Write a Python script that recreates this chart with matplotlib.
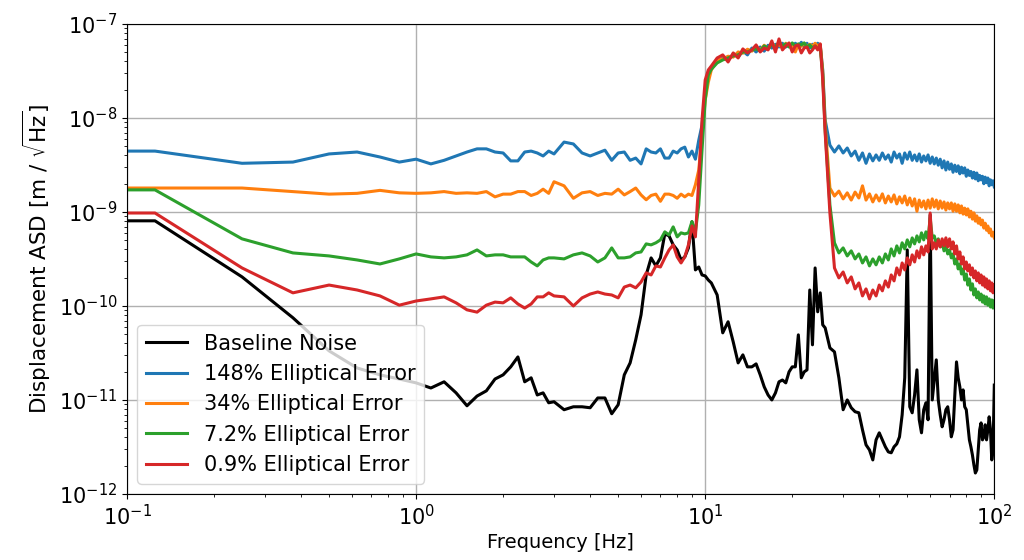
import numpy as np
import matplotlib
matplotlib.use("Agg")
import matplotlib.pyplot as plt

# frequency grid [Hz]: fine below 3 Hz, coarser above
freq = np.concatenate([
    [0.1], np.arange(0.125, 3.0001, 0.125),
    np.arange(3.25, 10.2501, 0.25),
    np.arange(10.5, 25.5001, 0.5),
    np.arange(26, 100.001, 1.0),
])

labels = ["Baseline Noise", "148% Elliptical Error", "34% Elliptical Error",
          "7.2% Elliptical Error", "0.9% Elliptical Error"]
colors = ["black", "#1f77b4", "#ff7f0e", "#2ca02c", "#d62728"]

baseline = [
    8.06e-10, 8.06e-10, 2.04e-10, 7.49e-11, 3.33e-11, 2.19e-11, 1.85e-11, 1.67e-11, 1.52e-11, 1.34e-11,
    1.56e-11, 1.19e-11, 8.67e-12, 1.10e-11, 1.25e-11, 1.67e-11, 1.85e-11, 2.25e-11, 2.87e-11, 1.56e-11,
    1.72e-11, 1.13e-11, 1.19e-11, 9.33e-12, 9.57e-12,
    7.87e-12, 8.46e-12, 8.46e-12, 8.26e-12, 1.05e-11, 1.05e-11, 7.13e-12, 8.89e-12, 1.85e-11, 2.48e-11,
    4.36e-11, 8.06e-11, 2.14e-10, 3.25e-10, 2.67e-10, 3.25e-10, 5.85e-10, 5.57e-10, 4.47e-10, 3.95e-10,
    3.09e-10, 3.33e-10, 4.15e-10, 7.87e-10, 2.42e-10, 2.6e-10, 2.14e-10, 2.09e-10, 1.89e-10,
    1.76e-10, 1.31e-10, 5.18e-11, 6.79e-11, 4.15e-11, 2.48e-11, 3.02e-11, 2.25e-11, 2.25e-11, 2.42e-11,
    1.85e-11, 1.38e-11, 1.13e-11, 1.0e-11, 1.19e-11, 1.56e-11, 1.63e-11, 1.52e-11, 1.99e-11, 2.25e-11,
    2.25e-11, 4.93e-11, 1.72e-11, 1.99e-11, 2.09e-11, 1.48e-10, 3.86e-11, 2.54e-10, 8.67e-11, 1.38e-10,
    6.3e-11,
    5.85e-11, 3.58e-11, 3.25e-11, 1.72e-11, 7.87e-12, 1.0e-11, 8.26e-12, 7.49e-12, 7.3e-12, 4.81e-12,
    3.33e-12, 2.94e-12, 2.3e-12, 3.76e-12, 4.47e-12, 3.76e-12, 3.17e-12, 2.8e-12, 2.74e-12, 3.17e-12,
    3.41e-12, 4.05e-12, 6.95e-12, 1.72e-11, 3.95e-10, 8.46e-12, 7.3e-12, 1.13e-11, 2.09e-11, 6.15e-12,
    4.47e-12, 7.87e-12, 9.33e-12, 6.15e-12, 9.33e-10, 1.0e-11, 1.63e-11, 2.67e-11, 1.0e-11, 6.95e-12,
    5.18e-12, 6.15e-12, 7.87e-12, 8.46e-12, 6.15e-12, 4.05e-12, 4.81e-12, 1.13e-11, 2.54e-11, 1.72e-11,
    1.38e-11, 1.0e-11, 1.28e-11, 8.46e-12, 7.87e-12, 5.44e-12, 3.76e-12, 3.17e-12, 2.6e-12, 2.04e-12,
    1.67e-12, 1.8e-12, 2.94e-12, 4.81e-12, 5.7e-12, 3.76e-12, 4.05e-12, 5.44e-12, 3.76e-12, 4.81e-12,
    6.62e-12, 4.81e-12, 2.3e-12, 2.94e-12, 1.44e-11,
]

err_148 = [
    4.45e-9, 4.45e-9, 3.3e-9, 3.4e-9, 4.15e-9, 4.35e-9, 3.85e-9, 3.4e-9, 3.65e-9, 3.25e-9,
    3.55e-9, 3.95e-9, 4.35e-9, 4.7e-9, 4.7e-9, 4.35e-9, 4.25e-9, 3.5e-9, 3.5e-9, 4.35e-9,
    4.45e-9, 4.25e-9, 3.95e-9, 4.45e-9, 4.15e-9,
    5.55e-9, 5.3e-9, 4.25e-9, 3.95e-9, 4.25e-9, 4.55e-9, 3.55e-9, 4.25e-9, 4.35e-9, 3.55e-9,
    3.75e-9, 3.25e-9, 4.7e-9, 4.35e-9, 4.25e-9, 4.7e-9, 3.75e-9, 3.75e-9, 4.45e-9, 4.25e-9,
    4.7e-9, 4.9e-9, 3.85e-9, 4.45e-9, 3.65e-9, 5.8e-9, 8.4e-9, 1.75e-8, 3.0e-8,
    3.4e-8, 3.95e-8, 4.35e-8, 4.15e-8, 4.8e-8, 4.45e-8, 5.15e-8, 4.7e-8, 5.55e-8, 5.05e-8,
    5.7e-8, 5.15e-8, 5.95e-8, 5.55e-8, 6.1e-8, 5.7e-8, 6.25e-8, 5.7e-8, 6.1e-8, 5.4e-8,
    6.25e-8, 5.8e-8, 6.4e-8, 5.7e-8, 6.25e-8, 5.55e-8, 6.1e-8, 5.7e-8, 6.25e-8, 5.95e-8,
    3.25e-8,
    9.5e-9, 5.15e-9, 4.35e-9, 5.05e-9, 4.25e-9, 4.8e-9, 3.95e-9, 4.45e-9, 3.55e-9, 4.25e-9,
    3.3e-9, 4.15e-9, 3.5e-9, 4.05e-9, 3.55e-9, 4.25e-9, 3.65e-9, 4.05e-9, 3.4e-9, 4.35e-9,
    3.75e-9, 4.15e-9, 3.3e-9, 4.25e-9, 3.65e-9, 4.35e-9, 3.55e-9, 4.05e-9, 3.5e-9, 4.15e-9,
    3.4e-9, 3.95e-9, 3.5e-9, 4.05e-9, 3.3e-9, 3.85e-9, 3.25e-9, 3.75e-9, 3.15e-9, 3.65e-9,
    2.95e-9, 3.5e-9, 2.8e-9, 3.4e-9, 2.85e-9, 3.25e-9, 2.65e-9, 3.15e-9, 2.7e-9, 3.1e-9,
    2.55e-9, 3.0e-9, 2.6e-9, 2.95e-9, 2.4e-9, 2.8e-9, 2.45e-9, 2.7e-9, 2.3e-9, 2.65e-9,
    2.25e-9, 2.6e-9, 2.15e-9, 2.45e-9, 2.2e-9, 2.4e-9, 2.0e-9, 2.35e-9, 2.05e-9, 2.3e-9,
    1.9e-9, 2.2e-9, 1.95e-9, 2.15e-9, 1.85e-9,
]

err_34 = [
    1.8e-9, 1.8e-9, 1.8e-9, 1.65e-9, 1.55e-9, 1.58e-9, 1.7e-9, 1.6e-9, 1.58e-9, 1.6e-9,
    1.65e-9, 1.58e-9, 1.6e-9, 1.58e-9, 1.65e-9, 1.45e-9, 1.55e-9, 1.55e-9, 1.65e-9, 1.65e-9,
    1.5e-9, 1.58e-9, 1.75e-9, 1.58e-9, 2.1e-9,
    1.9e-9, 1.4e-9, 1.6e-9, 1.65e-9, 1.5e-9, 1.58e-9, 1.55e-9, 1.75e-9, 1.52e-9, 1.65e-9,
    1.8e-9, 1.52e-9, 1.35e-9, 1.5e-9, 1.55e-9, 1.3e-9, 1.55e-9, 1.55e-9, 1.5e-9, 1.4e-9,
    1.55e-9, 1.45e-9, 1.55e-9, 1.5e-9, 1.95e-9, 2.8e-9, 6.6e-9, 1.55e-8, 2.4e-8,
    3.25e-8, 4.15e-8, 4.25e-8, 4.55e-8, 4.45e-8, 5.05e-8, 4.9e-8, 5.4e-8, 5.15e-8, 5.7e-8,
    5.3e-8, 5.95e-8, 5.4e-8, 6.25e-8, 5.7e-8, 6.1e-8, 5.55e-8, 6.25e-8, 5.8e-8, 6.1e-8,
    5.05e-8, 6.1e-8, 5.8e-8, 6.25e-8, 5.7e-8, 6.1e-8, 5.8e-8, 6.25e-8, 5.8e-8, 6.1e-8,
    3.1e-8,
    8.4e-9, 1.8e-9, 1.48e-9, 1.67e-9, 1.38e-9, 1.6e-9, 1.34e-9, 1.63e-9, 1.41e-9, 1.9e-9,
    1.34e-9, 1.56e-9, 1.28e-9, 1.52e-9, 1.31e-9, 1.56e-9, 1.25e-9, 1.48e-9, 1.28e-9, 1.52e-9,
    1.22e-9, 1.45e-9, 1.25e-9, 1.48e-9, 1.19e-9, 1.41e-9, 1.16e-9, 1.38e-9, 1.02e-9, 1.34e-9,
    1.13e-9, 1.31e-9, 1.08e-9, 1.34e-9, 1.10e-9, 1.38e-9, 1.13e-9, 1.34e-9, 1.08e-9, 1.31e-9,
    1.10e-9, 1.28e-9, 1.05e-9, 1.25e-9, 1.08e-9, 1.25e-9, 1.02e-9, 1.22e-9, 1.02e-9, 1.19e-9,
    9.8e-10, 1.16e-9, 9.5e-10, 1.10e-9, 9.3e-10, 1.08e-9, 8.85e-10, 1.02e-9, 8.4e-10, 9.8e-10,
    8.0e-10, 9.1e-10, 7.6e-10, 8.6e-10, 7.3e-10, 8.2e-10, 6.75e-10, 7.6e-10, 6.4e-10, 7.1e-10,
    6.0e-10, 6.6e-10, 5.55e-10, 6.1e-10, 5.3e-10,
]

err_7 = [
    1.72e-9, 1.72e-9, 5.18e-10, 3.67e-10, 3.41e-10, 3.09e-10, 2.8e-10, 3.17e-10, 3.58e-10, 3.33e-10,
    3.25e-10, 3.33e-10, 3.5e-10, 3.95e-10, 3.41e-10, 3.5e-10, 3.5e-10, 3.33e-10, 3.33e-10, 3.33e-10,
    2.94e-10, 2.67e-10, 3.09e-10, 3.25e-10, 3.25e-10,
    3.17e-10, 3.5e-10, 3.67e-10, 3.41e-10, 2.94e-10, 3.25e-10, 4.15e-10, 3.25e-10, 3.25e-10, 3.33e-10,
    3.67e-10, 3.76e-10, 4.58e-10, 4.47e-10, 4.7e-10, 5.05e-10, 6.15e-10, 5.7e-10, 6.95e-10, 5.44e-10,
    6.0e-10, 5.85e-10, 6.0e-10, 7.9e-10, 6.15e-10, 1.19e-9, 4.55e-9, 1.56e-8, 2.87e-8,
    3.3e-8, 3.86e-8, 4.15e-8, 4.36e-8, 4.58e-8, 4.7e-8, 5.05e-8, 5.05e-8, 5.3e-8, 5.44e-8,
    5.18e-8, 5.85e-8, 5.57e-8, 6.0e-8, 5.7e-8, 6.45e-8, 5.85e-8, 6.15e-8, 5.7e-8, 6.3e-8,
    5.85e-8, 6.15e-8, 6.0e-8, 6.3e-8, 5.7e-8, 6.0e-8, 5.57e-8, 5.85e-8, 5.44e-8, 5.7e-8,
    2.87e-8,
    7.45e-9, 1.19e-9, 4.7e-10, 3.67e-10, 4.15e-10, 3.41e-10, 3.86e-10, 3.17e-10, 3.58e-10, 2.87e-10,
    3.33e-10, 2.67e-10, 3.17e-10, 2.74e-10, 3.33e-10, 2.87e-10, 3.58e-10, 3.09e-10, 4.05e-10, 3.41e-10,
    4.36e-10, 3.67e-10, 4.7e-10, 4.05e-10, 5.05e-10, 4.26e-10, 5.3e-10, 4.58e-10, 5.57e-10, 4.81e-10,
    6.0e-10, 5.05e-10, 6.15e-10, 5.18e-10, 8.67e-10, 5.3e-10, 5.57e-10, 4.58e-10, 5.18e-10, 4.26e-10,
    4.7e-10, 3.86e-10, 4.36e-10, 3.58e-10, 3.95e-10, 3.25e-10, 3.58e-10, 2.8e-10, 3.17e-10, 2.48e-10,
    2.8e-10, 2.19e-10, 2.48e-10, 1.89e-10, 2.19e-10, 1.67e-10, 1.94e-10, 1.48e-10, 1.72e-10, 1.31e-10,
    1.52e-10, 1.22e-10, 1.41e-10, 1.16e-10, 1.34e-10, 1.10e-10, 1.28e-10, 1.05e-10, 1.25e-10, 1.02e-10,
    1.19e-10, 9.75e-11, 1.16e-10, 9.5e-11, 1.13e-10,
]

err_09 = [
    9.76e-10, 9.76e-10, 2.54e-10, 1.38e-10, 1.67e-10, 1.48e-10, 1.28e-10, 1.02e-10, 1.13e-10, 1.19e-10,
    1.25e-10, 1.08e-10, 9.1e-11, 8.6e-11, 1.02e-10, 1.10e-10, 1.08e-10, 1.22e-10, 1.05e-10, 9.5e-11,
    1.05e-10, 1.25e-10, 1.25e-10, 1.38e-10, 1.28e-10,
    1.25e-10, 1.0e-10, 1.22e-10, 1.34e-10, 1.41e-10, 1.34e-10, 1.31e-10, 1.22e-10, 1.59e-10, 1.67e-10,
    1.56e-10, 1.80e-10, 2.25e-10, 2.14e-10, 2.67e-10, 2.6e-10, 3.25e-10, 3.95e-10, 4.47e-10, 3.33e-10,
    2.87e-10, 3.33e-10, 4.47e-10, 7.1e-10, 5.44e-10, 2.19e-9, 9.5e-9, 2.54e-8, 3.25e-8,
    3.58e-8, 4.36e-8, 4.7e-8, 3.95e-8, 4.93e-8, 4.36e-8, 5.44e-8, 4.93e-8, 5.31e-8, 6.0e-8,
    5.05e-8, 5.57e-8, 5.31e-8, 6.62e-8, 5.05e-8, 6.95e-8, 5.31e-8, 5.85e-8, 6.3e-8, 5.05e-8,
    5.85e-8, 6.0e-8, 4.93e-8, 5.57e-8, 5.7e-8, 4.93e-8, 5.31e-8, 5.85e-8, 5.31e-8, 6.15e-8,
    2.54e-8,
    6.95e-9, 9.76e-10, 2.54e-10, 1.99e-10, 2.3e-10, 1.76e-10, 2.04e-10, 1.52e-10, 1.76e-10, 1.28e-10,
    1.52e-10, 1.19e-10, 1.48e-10, 1.28e-10, 1.67e-10, 1.45e-10, 1.85e-10, 1.59e-10, 2.14e-10, 1.85e-10,
    2.54e-10, 2.14e-10, 2.87e-10, 2.42e-10, 3.25e-10, 2.74e-10, 3.5e-10, 2.94e-10, 3.86e-10, 3.25e-10,
    4.26e-10, 3.5e-10, 4.36e-10, 3.76e-10, 9.76e-10, 4.05e-10, 4.7e-10, 4.05e-10, 5.05e-10, 4.26e-10,
    5.18e-10, 4.36e-10, 5.31e-10, 4.26e-10, 5.18e-10, 4.05e-10, 4.81e-10, 3.58e-10, 4.36e-10, 3.17e-10,
    3.76e-10, 2.8e-10, 3.33e-10, 2.48e-10, 2.94e-10, 2.36e-10, 2.74e-10, 2.14e-10, 2.54e-10, 1.99e-10,
    2.36e-10, 1.85e-10, 2.25e-10, 1.76e-10, 2.14e-10, 1.67e-10, 2.04e-10, 1.59e-10, 1.94e-10, 1.52e-10,
    1.85e-10, 1.45e-10, 1.76e-10, 1.38e-10, 1.67e-10,
]

series = [baseline, err_148, err_34, err_7, err_09]

fig = plt.figure(figsize=(10.24, 5.6), dpi=100)
ax = fig.add_axes([0.124, 0.118, 0.847, 0.839])

for vals, lab, col in zip(series, labels, colors):
    ax.loglog(freq, vals, color=col, lw=2.2, label=lab)

ax.set_xlim(0.1, 100)
ax.set_ylim(1e-12, 1e-7)
ax.grid(True, which="major", color="#b0b0b0", lw=1)
ax.tick_params(labelsize=15)
ax.set_xlabel("Frequency [Hz]", fontsize=14, labelpad=3)
ax.set_ylabel(r"Displacement ASD [m / $\sqrt{\mathrm{Hz}}$]", fontsize=15.5)
ax.legend(loc="lower left", fontsize=15)

fig.savefig("out.png", dpi=100)
